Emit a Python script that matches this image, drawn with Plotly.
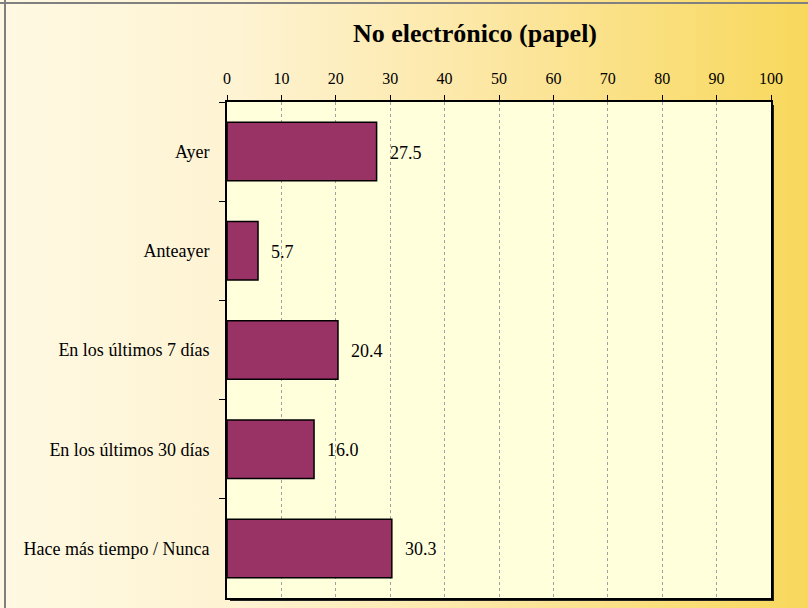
import base64
import plotly.graph_objects as go

categories = ["Ayer", "Anteayer", "En los últimos 7 días", "En los últimos 30 días", "Hace más tiempo / Nunca"]
values = [27.5, 5.7, 20.4, 16.0, 30.3]
x_ticks = list(range(0, 101, 10))
title = "No electrónico (papel)"

SERIF = "Times New Roman, Liberation Serif, DejaVu Serif, serif"
W, H = 808, 608
L, R, T, B = 227, 37, 102, 10
pw, ph = W - L - R, H - T - B

svg = f'''<svg xmlns="http://www.w3.org/2000/svg" width="{W}" height="{H}" preserveAspectRatio="none">
<defs><linearGradient id="g" x1="0" y1="0" x2="1" y2="0">
<stop offset="0" stop-color="#FFF9E3"/>
<stop offset="0.3" stop-color="#FEF3D2"/>
<stop offset="0.6" stop-color="#FCE7A4"/>
<stop offset="1" stop-color="#F8D85C"/>
</linearGradient></defs>
<rect width="{W}" height="{H}" fill="url(#g)"/>
<line x1="0" y1="3" x2="{W}" y2="3" stroke="#808080" stroke-width="2"/>
<line x1="5" y1="0" x2="5" y2="{H}" stroke="#808080" stroke-width="2"/>
</svg>'''
src = "data:image/svg+xml;base64," + base64.b64encode(svg.encode()).decode()

fig = go.Figure()
fig.add_trace(go.Bar(
    y=categories, x=values, orientation="h",
    marker=dict(color="#993366", line=dict(color="black", width=1.5)),
    width=0.59, hoverinfo="x+y",
))

for c, v in zip(categories, values):
    fig.add_annotation(x=v, y=c, text=f"{v:.1f}", showarrow=False,
                       xanchor="left", xshift=11, yshift=-1,
                       font=dict(family=SERIF, size=18, color="black"))

# plot-area background above the gradient image
fig.add_shape(type="rect", xref="paper", yref="paper", x0=0, x1=1, y0=0, y1=1,
              fillcolor="#FFFFDC", line_width=0, layer="below")
# shadow of the plot area (pixel offsets converted to paper units)
dx, dy = 3 / pw, 3 / ph
fig.add_shape(type="rect", xref="paper", yref="paper", x0=1, x1=1 + dx, y0=-dy, y1=1 - dy,
              fillcolor="#222222", line_width=0, layer="below")
fig.add_shape(type="rect", xref="paper", yref="paper", x0=dx, x1=1 + dx, y0=-dy, y1=0,
              fillcolor="#222222", line_width=0, layer="below")

fig.update_layout(
    width=W, height=H,
    margin=dict(l=L, r=R, t=T, b=B, autoexpand=False),
    paper_bgcolor="rgba(0,0,0,0)",
    plot_bgcolor="#FFFFDC",
    images=[dict(source=src, xref="paper", yref="paper", x=-L / pw, y=1 + T / ph,
                 sizex=W / pw, sizey=H / ph, xanchor="left", yanchor="top",
                 sizing="stretch", layer="below")],
    title=dict(text=f"<b>{title}</b>", x=475 / W, xref="container", xanchor="center",
               y=1 - 33 / H, yanchor="middle",
               font=dict(family=SERIF, size=26, color="black")),
    font=dict(family=SERIF, size=18, color="black"),
    showlegend=False,
)
fig.update_xaxes(
    side="top", range=[0, 100], tickvals=x_ticks, ticktext=[str(t) for t in x_ticks],
    tickfont=dict(size=16),
    showgrid=True, gridcolor="#a0a0a0", griddash="dot", gridwidth=1,
    showline=True, linecolor="black", linewidth=2, mirror=True,
    ticks="outside", ticklen=5, tickcolor="black", tickwidth=1,
    zeroline=False, ticklabelstandoff=5, fixedrange=True, automargin=False,
)
fig.update_yaxes(
    autorange="reversed", type="category", tickson="boundaries",
    showline=True, linecolor="black", linewidth=2, mirror=True,
    ticks="outside", ticklen=6, tickcolor="black", tickwidth=1,
    showgrid=False, ticklabelstandoff=12, fixedrange=True, automargin=False,
)

fig.write_html("out.html", config={"displayModeBar": False},
               post_script="document.body.style.margin='0';")
